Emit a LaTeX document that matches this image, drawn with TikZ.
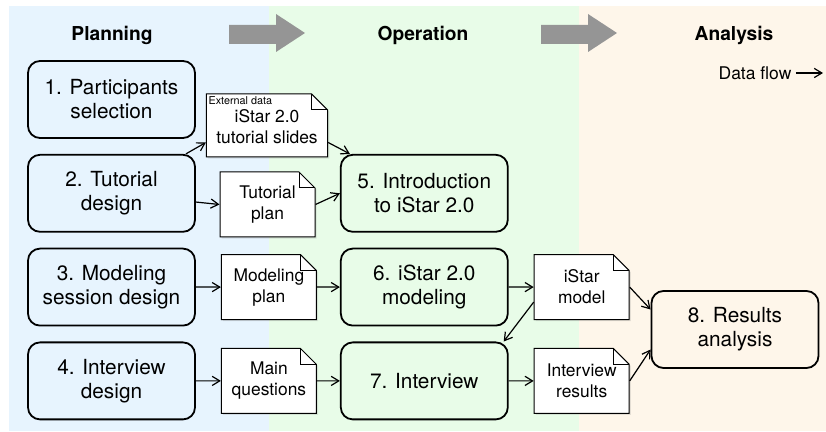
\documentclass[tikz,border=0pt]{standalone}
\usepackage{fontspec}
\setmainfont{TeX Gyre Heros}
\usepackage{tikz}
\usetikzlibrary{positioning,arrows.meta,shapes.misc,shadows}
\usepackage{xcolor}
\definecolor{planbg}{HTML}{E7F4FE}
\definecolor{operbg}{HTML}{E8FCE8}
\definecolor{analbg}{HTML}{FEF6EA}
\definecolor{phasegray}{HTML}{959595}

\begin{document}
\begin{tikzpicture}[x=0.5pt, y=-0.5pt,
      node distance=7.5pt and 12.5pt,
      stepbox/.style={draw, rounded corners=6pt, line width=0.9pt, align=center,
                  minimum width=83.5pt, minimum height=38.5pt,
                  font=\fontsize{10.4}{12}\selectfont},
      doc/.style={chamfered rectangle, chamfered rectangle corners=north east,
                  chamfered rectangle sep=4pt, draw, fill=white, line width=0.5pt,
                  align=center, inner sep=1pt, minimum width=47.5pt, minimum height=32.5pt,
                  font=\fontsize{8.7}{10.5}\selectfont,
                  drop shadow={shadow xshift=0.8pt, shadow yshift=-0.8pt, opacity=0.2},
                  path picture={\draw[line width=0.5pt]
                      ([xshift=-8pt]path picture bounding box.north east)
                      |- ([yshift=-8pt]path picture bounding box.north east);}},
      phase/.style={font=\bfseries\fontsize{9.6}{11}\selectfont},
      flow/.style={->, line width=0.6pt},
      >={Straight Barb[length=3.8pt,width=4.6pt]}]
    \useasboundingbox (0,0) rectangle (826,432);
    % phase backgrounds
    \fill[planbg] (9,6) rectangle (269,431);
    \fill[operbg] (269,6) rectangle (579,431);
    \fill[analbg] (579,6) rectangle (826,431);
    \fill[phasegray] (229,25) -- (276,25) -- (276,14) -- (305,33) -- (276,52) -- (276,44) -- (229,44) -- cycle;
    \fill[phasegray] (541,25) -- (588,25) -- (588,14) -- (617,33) -- (588,52) -- (588,44) -- (541,44) -- cycle;
    \node[phase] (planning) at (112,35) {Planning};
    \node[phase] (operation) at (423,35) {Operation};
    \node[phase] (analysis) at (734,35) {Analysis};
    \node[font=\fontsize{8.75}{10}\selectfont, inner sep=2pt] (flowlbl) at (755,73) {Data flow};
    \coordinate (flowend) at (823,73);
    \draw[flow] (flowlbl) -- (flowend);
    % steps
    \node[stepbox] (sel) at (111.5,99.5) {1. Participants\\selection};
    \node[stepbox, below=of sel] (tut) {2. Tutorial\\design};
    \node[stepbox, below=of tut] (mod) {3. Modeling\\session design};
    \node[stepbox, below=of mod] (itv) {4. Interview\\design};
    \node[stepbox, right=72pt of tut] (intro) {5. Introduction\\to iStar 2.0};
    \node[stepbox, below=of intro] (ismod) {6. iStar 2.0\\modeling};
    \node[stepbox, below=of ismod] (inter) {7. Interview};
    \node[stepbox] (res) at (735,329.5) {8. Results\\analysis};
    % data
    \node[doc, minimum width=60pt, minimum height=31.5pt] (slides) at (267,125.5) {\\[-3pt]iStar 2.0\\tutorial slides};
    \node[font=\fontsize{5.4}{6}\selectfont, anchor=north west, inner sep=1.2pt] (extlbl) at (slides.north west) {External data};
    \node[doc] (tplan) at (267.5,204.5) {Tutorial\\plan};
    \node[doc, right=of mod] (mplan) {Modeling\\plan};
    \node[doc, right=of itv] (quest) {Main\\questions};
    \node[doc, right=of ismod] (model) {iStar\\model};
    \node[doc, right=of inter] (ires) {Interview\\results};
    % data flow
    \draw[flow] ([xshift=-5pt]tut.north east) -- ([yshift=7.5pt]slides.south west);
    \draw[flow] ([yshift=7.5pt]slides.south east) -- ([xshift=5pt]intro.north west);
    \draw[flow] (tut) -- (tplan.west);
    \draw[flow] (tplan.east) -- (intro.west);
    \draw[flow] (mod) -- (mplan);
    \draw[flow] (mplan) -- (ismod);
    \draw[flow] (itv) -- (quest);
    \draw[flow] (quest) -- (inter);
    \draw[flow] (ismod) -- (model);
    \draw[flow] ([yshift=9pt]model.south west) -- ([xshift=-2.5pt]inter.north east);
    \draw[flow] (inter) -- (ires);
    \draw[flow] (model.east) -- ([yshift=10pt]res.west);
    \draw[flow] (ires.east) -- ([yshift=-10pt]res.west);
  \end{tikzpicture}
\end{document}
